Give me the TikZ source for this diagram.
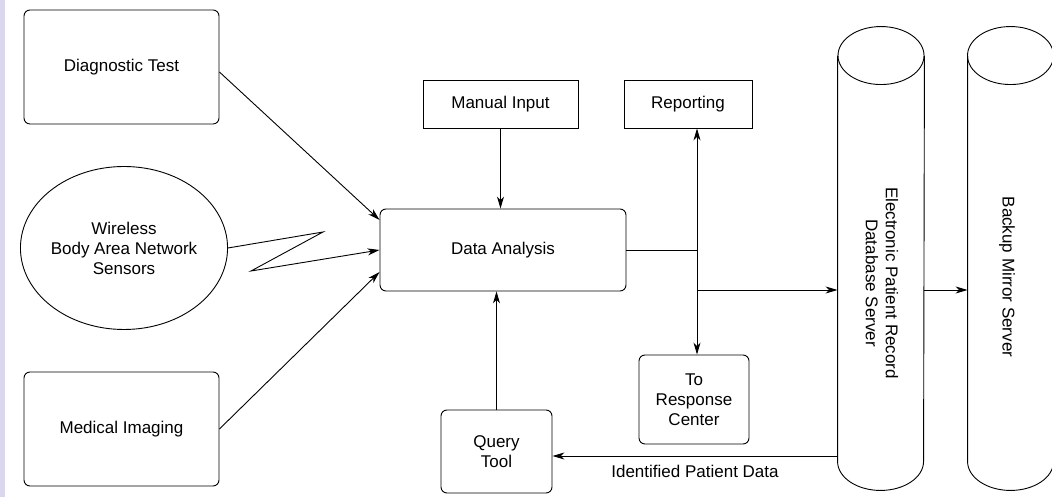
\documentclass[tikz,border=0pt]{standalone}
\usepackage{fontspec}
\setmainfont{Liberation Sans}
\usetikzlibrary{arrows.meta,calc,positioning,shapes.geometric}
\definecolor{stripblue}{HTML}{D9D6EE}

\begin{document}
\begin{tikzpicture}[x=1pt,y=1pt,line width=0.9pt,
  every node/.style={font=\fontsize{17}{20}\selectfont},
  rbox/.style={draw,rounded corners=6pt,align=center,inner sep=0pt},
  sbox/.style={draw,align=center,inner sep=0pt},
  flow/.style={-{Stealth[length=12pt,width=7pt,inset=3.5pt]}}]
  \useasboundingbox (0,0) rectangle (1052,497);
  \fill[stripblue] (0,0) rectangle (5,497);

  % Sources on the left
  \node[rbox,minimum width=195pt,minimum height=114pt] (dt) at (121.5,430) {Diagnostic Test};
  \node[draw,ellipse,align=center,inner sep=0pt,minimum width=176pt,minimum height=163pt] (wban) at (124,249) {Wireless\\Body Area Network\\Sensors};
  \node[rbox,minimum width=195pt,minimum height=114pt] (mi) at (121.5,68) {Medical Imaging};

  % Middle column
  \node[rbox,minimum width=246pt,minimum height=82pt] (da) at (503,247) {Data Analysis};
  \node[sbox,minimum width=155pt,minimum height=48pt] (man) at (500.5,393) {Manual Input};
  \node[sbox,minimum width=128pt,minimum height=48pt] (rep) at (688,393) {Reporting};
  \node[rbox,minimum width=110pt,minimum height=89pt] (resp) at (694,97.5) {To\\Response\\Center};
  \node[rbox,minimum width=111pt,minimum height=83pt] (qt) at (496.5,45.5) {Query\\Tool};

  % Servers
  \node[minimum width=86pt,minimum height=463pt,inner sep=0pt] (epr) at (881,238.5) {};
  \node[minimum width=85pt,minimum height=463pt,inner sep=0pt] (bms) at (1010.5,238.5) {};
  \foreach \srv in {epr,bms} {
    \draw ([yshift=-29pt]\srv.north) ellipse [x radius=43pt,y radius=29pt];
    \draw ([yshift=-29pt]\srv.north west) -- ([yshift=29pt]\srv.south west)
      arc[start angle=180,end angle=360,x radius=43pt,y radius=29pt]
      -- ([yshift=-29pt]\srv.north east);
  }
  \node[rotate=-90,align=center] (eprlabel) at (882,214) {Electronic Patient Record\\Database Server};
  \node[rotate=-90] (bmslabel) at (1007,220) {Backup Mirror Server};

  % Connectors
  \coordinate (vline) at (697,0);
  \coordinate (split) at (da.east -| vline);
  \coordinate (branch) at (697,207);
  \coordinate (idp) at ([yshift=-4.5pt]qt.east);

  \draw[flow] ([yshift=-5pt]dt.east) -- ([yshift=30pt]da.west);
  \draw[flow] (wban.east) -- (323,265) -- (251,226) -- (da.west);
  \draw[flow] (mi.east) -- ([yshift=-22pt]da.west);
  \draw[flow] (man.south) -- (man.south |- da.north);
  \draw (da.east) -- (split);
  \draw[flow] (split) -- (rep.south -| split);
  \draw[flow] (split) -- (resp.north -| split);
  \draw[flow] (branch) -- (branch -| epr.west);
  \draw[flow] (branch -| epr.east) -- (branch -| bms.west);
  \draw[flow] (qt.north) -- (qt.north |- da.south);
  \draw[flow] (idp -| epr.west) -- node[below=5pt] (idplabel) {Identified Patient Data} (idp);
\end{tikzpicture}
\end{document}
